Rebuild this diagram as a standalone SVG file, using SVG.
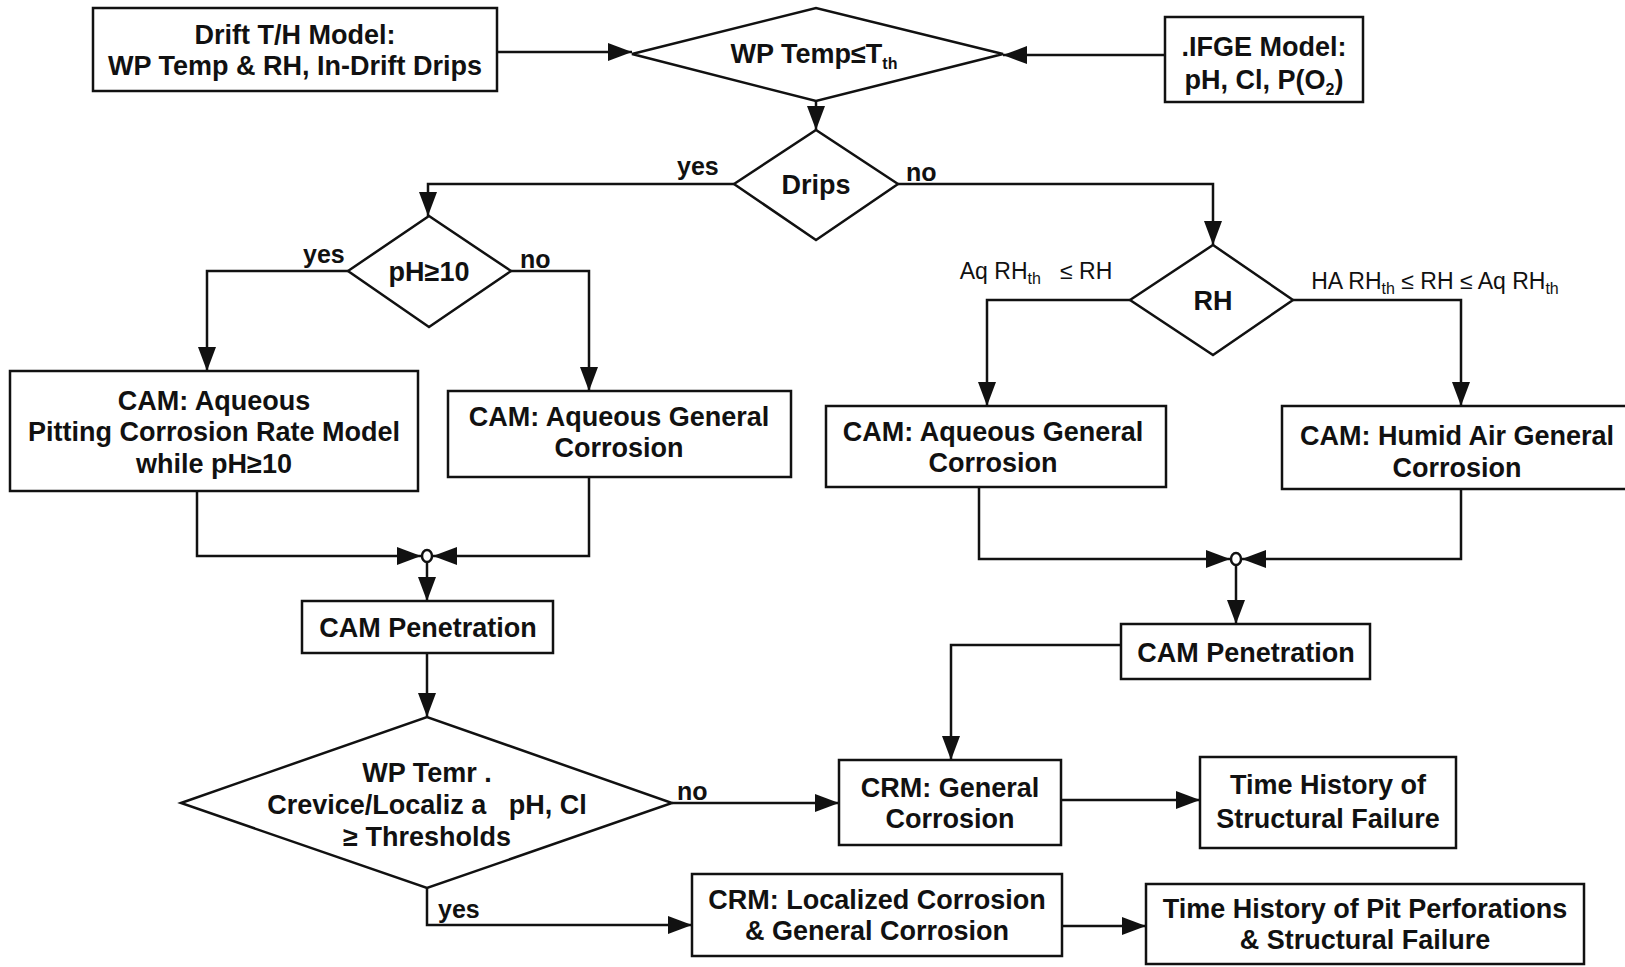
<svg xmlns="http://www.w3.org/2000/svg" width="1625" height="967" viewBox="0 0 1625 967">
<defs>
<style>
.box{fill:#fff;stroke:#111;stroke-width:2.5}
.dia{fill:#fff;stroke:#111;stroke-width:2.5}
.t{font-family:"Liberation Sans",Arial,sans-serif;font-weight:bold;font-size:27px;fill:#111;text-anchor:middle}
.r{font-family:"Liberation Sans",Arial,sans-serif;font-size:23px;fill:#111;text-anchor:middle}
.lbl{font-family:"Liberation Sans",Arial,sans-serif;font-weight:bold;font-size:25px;fill:#111}
.c{fill:none;stroke:#111;stroke-width:2.5}
.sub{font-size:16px}
</style>
<marker id="ah" markerUnits="userSpaceOnUse" markerWidth="26" markerHeight="20" refX="24" refY="10" orient="auto">
<path d="M0,1 L24,10 L0,19 z" fill="#111"/>
</marker>
</defs>

<g id="connectors">
<path class="c" d="M497,52 H632" marker-end="url(#ah)"/>
<path class="c" d="M1165,55 H1003" marker-end="url(#ah)"/>
<path class="c" d="M816,101 V130" marker-end="url(#ah)"/>
<path class="c" d="M734,184 H428 V216" marker-end="url(#ah)"/>
<path class="c" d="M898,184 H1213 V245" marker-end="url(#ah)"/>
<path class="c" d="M348,271 H207 V371" marker-end="url(#ah)"/>
<path class="c" d="M511,271 H589 V391" marker-end="url(#ah)"/>
<path class="c" d="M197,491 V556 H421" marker-end="url(#ah)"/>
<path class="c" d="M589,477 V556 H433" marker-end="url(#ah)"/>
<ellipse class="c" cx="427" cy="556" rx="5" ry="6"/>
<path class="c" d="M427,562 V601" marker-end="url(#ah)"/>
<path class="c" d="M427,653 V717" marker-end="url(#ah)"/>
<path class="c" d="M672,803 H839" marker-end="url(#ah)"/>
<path class="c" d="M427,888 V925 H692" marker-end="url(#ah)"/>
<path class="c" d="M1061,800 H1200" marker-end="url(#ah)"/>
<path class="c" d="M1062,926 H1146" marker-end="url(#ah)"/>
<path class="c" d="M1130,300 H987 V406" marker-end="url(#ah)"/>
<path class="c" d="M1293,300 H1461 V406" marker-end="url(#ah)"/>
<path class="c" d="M979,487 V559 H1230" marker-end="url(#ah)"/>
<path class="c" d="M1461,489 V559 H1242" marker-end="url(#ah)"/>
<ellipse class="c" cx="1236" cy="559" rx="5" ry="6"/>
<path class="c" d="M1236,565 V624" marker-end="url(#ah)"/>
<path class="c" d="M1121,645 H951 V760" marker-end="url(#ah)"/>
</g>

<g id="drift">
<rect class="box" x="93" y="8" width="404" height="83"/>
<text class="t" x="295" y="44">Drift T/H Model:</text>
<text class="t" x="295" y="75">WP Temp &amp; RH, In-Drift Drips</text>
</g>

<g id="jfge">
<rect class="box" x="1165" y="17" width="198" height="85"/>
<text class="t" x="1264" y="56">.IFGE Model:</text>
<text class="t" x="1264" y="89">pH, Cl, P(O<tspan class="sub" dy="6">2</tspan><tspan dy="-6">)</tspan></text>
</g>

<g id="wptemp">
<polygon class="dia" points="632,54 816,8 1003,54 816,101"/>
<text class="t" x="814" y="63">WP Temp≤T<tspan class="sub" dy="6">th</tspan></text>
</g>

<g id="drips">
<polygon class="dia" points="734,184 816,130 898,184 816,240"/>
<text class="t" x="816" y="194">Drips</text>
</g>
<text class="lbl" x="677" y="175">yes</text>
<text class="lbl" x="906" y="181">no</text>

<g id="ph">
<polygon class="dia" points="348,271 429,216 511,271 429,327"/>
<text class="t" x="429" y="281">pH≥10</text>
</g>
<text class="lbl" x="303" y="263">yes</text>
<text class="lbl" x="520" y="268">no</text>

<g id="pitting">
<rect class="box" x="10" y="371" width="408" height="120"/>
<text class="t" x="214" y="410">CAM: Aqueous</text>
<text class="t" x="214" y="441">Pitting Corrosion Rate Model</text>
<text class="t" x="214" y="473">while pH≥10</text>
</g>

<g id="aqgen-left">
<rect class="box" x="448" y="391" width="343" height="86"/>
<text class="t" x="619" y="426">CAM: Aqueous General</text>
<text class="t" x="619" y="457">Corrosion</text>
</g>

<g id="campen-left">
<rect class="box" x="302" y="601" width="251" height="52"/>
<text class="t" x="428" y="637">CAM Penetration</text>
</g>

<g id="thresholds">
<polygon class="dia" points="181,803 427,717 672,803 427,888"/>
<text class="t" x="427" y="782">WP Temr .</text>
<text class="t" x="427" y="814" xml:space="preserve">Crevice/Localiz a   pH, Cl</text>
<text class="t" x="427" y="846">≥ Thresholds</text>
</g>
<text class="lbl" x="677" y="800">no</text>
<text class="lbl" x="438" y="918">yes</text>

<g id="rh">
<polygon class="dia" points="1130,300 1213,245 1293,300 1213,355"/>
<text class="t" x="1213" y="310">RH</text>
</g>
<text class="r" x="1036" y="279" xml:space="preserve">Aq RH<tspan class="sub" dy="5">th</tspan><tspan dy="-5">   ≤ RH</tspan></text>
<text class="r" x="1435" y="289">HA RH<tspan class="sub" dy="5">th</tspan><tspan dy="-5"> ≤ RH ≤ Aq RH</tspan><tspan class="sub" dy="5">th</tspan></text>

<g id="aqgen-right">
<rect class="box" x="826" y="406" width="340" height="81"/>
<text class="t" x="993" y="441">CAM: Aqueous General</text>
<text class="t" x="993" y="472">Corrosion</text>
</g>

<g id="humid">
<rect class="box" x="1282" y="406" width="360" height="83"/>
<text class="t" x="1457" y="445">CAM: Humid Air General</text>
<text class="t" x="1457" y="477">Corrosion</text>
</g>

<g id="campen-right">
<rect class="box" x="1121" y="624" width="249" height="55"/>
<text class="t" x="1246" y="662">CAM Penetration</text>
</g>

<g id="crm-general">
<rect class="box" x="839" y="760" width="222" height="85"/>
<text class="t" x="950" y="797">CRM: General</text>
<text class="t" x="950" y="828">Corrosion</text>
</g>

<g id="th-structural">
<rect class="box" x="1200" y="757" width="256" height="91"/>
<text class="t" x="1328" y="794">Time History of</text>
<text class="t" x="1328" y="828">Structural Failure</text>
</g>

<g id="crm-localized">
<rect class="box" x="692" y="874" width="370" height="82"/>
<text class="t" x="877" y="909">CRM: Localized Corrosion</text>
<text class="t" x="877" y="940">&amp; General Corrosion</text>
</g>

<g id="th-pit">
<rect class="box" x="1146" y="884" width="438" height="80"/>
<text class="t" x="1365" y="918">Time History of Pit Perforations</text>
<text class="t" x="1365" y="949">&amp; Structural Failure</text>
</g>
</svg>
